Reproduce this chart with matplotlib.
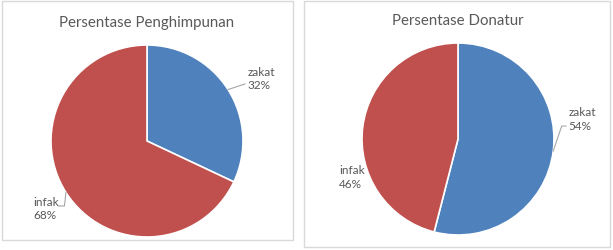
import numpy as np
import matplotlib.pyplot as plt
from matplotlib.patches import Rectangle

# data
categories = ['zakat', 'infak']
penghimpunan = [32, 68]
donatur = [54, 46]
titles = ['Persentase Penghimpunan', 'Persentase Donatur']
colors = ['#4F81BD', '#C0504D']

W, H = 613, 251
fig = plt.figure(figsize=(W / 100, H / 100), dpi=100)
plt.rcParams['font.family'] = ['Lato', 'DejaVu Sans']


def px_axes(cx, cy, r):
    # axes box in pixels (cy from top) -> figure fraction
    return [(cx - r) / W, (H - cy - r) / H, 2 * r / W, 2 * r / H]


def panel(x0, y0, x1, y1):
    fig.patches.append(Rectangle((x0 / W, 1 - y1 / H), (x1 - x0) / W, (y1 - y0) / H,
                                 transform=fig.transFigure, fill=False,
                                 edgecolor='#D9D9D9', linewidth=1))


def draw_pie(cx, cy, r, values, title, title_y, label_pos, leaders):
    ax = fig.add_axes(px_axes(cx, cy, r))
    ax.pie(values, colors=colors, startangle=90, counterclock=False, radius=1,
           wedgeprops=dict(edgecolor='white', linewidth=1.2))
    ax.set_xlim(-1, 1)
    ax.set_ylim(-1, 1)
    ax.set_aspect('equal')
    ax.axis('off')
    total = sum(values)
    start = 90
    for i, (cat, v) in enumerate(zip(categories, values)):
        ang = np.deg2rad(start - v / total * 360 / 2)
        start -= v / total * 360
        lx, ly = label_pos[i]
        ax.text(lx, ly, f'{cat}\n{round(v / total * 100)}%', ha='left', va='center',
                fontsize=8.5, color='#595959', linespacing=1.25, clip_on=False)
        pts = leaders[i]
        if pts:
            xs = [np.cos(ang)] + [p[0] for p in pts]
            ys = [np.sin(ang)] + [p[1] for p in pts]
            ax.plot(xs, ys, color='#A6A6A6', lw=0.8, clip_on=False)
    fig.text(cx / W, 1 - title_y / H, title, ha='center', va='center',
             fontsize=10.8, color='#595959')


panel(2, 2, 293, 241)
panel(304, 2, 610, 248)

draw_pie(147, 142, 96, penghimpunan, titles[0], 23,
         [(1.045, 0.655), (-1.18, -0.70)],
         [[(1.02, 0.594)], [(-0.86, -0.677), (-0.92, -0.677)]])
draw_pie(458, 140, 96, donatur, titles[1], 21,
         [(1.15, 0.214), (-1.24, -0.39)],
         [[(1.08, 0.135), (1.125, 0.135)], []])

fig.savefig('out.png', dpi=100)
